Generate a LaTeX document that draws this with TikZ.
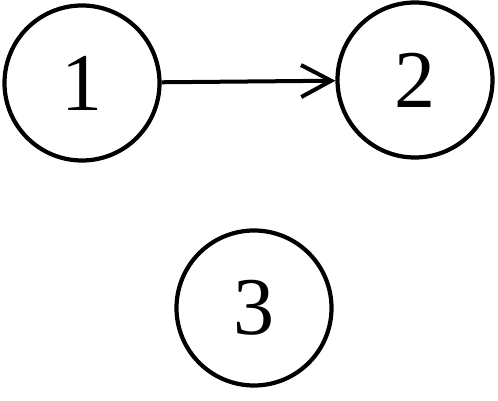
\documentclass[tikz,border=0pt]{standalone}
\usepackage{fontspec}
\setmainfont{Liberation Serif}
\usetikzlibrary{arrows.meta, positioning}
\tikzset{
	statenode/.style={draw, circle, line width=4.2pt, minimum size=155pt, inner sep=0pt, font=\fontsize{82}{82}\selectfont},
	edgearr/.style={-{Straight Barb[length=30pt, width=32pt]}, line width=4pt},
}
\begin{document}
\begin{tikzpicture}[x=1pt, y=1pt]
	\useasboundingbox (0,0) rectangle (498,401);

	% States
	\node[statenode] (s1) at (82,318) {1};
	\node[statenode] (s2) at (415,321) {2};
	\node[statenode] (s3) at (254,93) {3};

	% Edge between states
	\draw[edgearr] (s1) -- (s2);
\end{tikzpicture}
\end{document}
